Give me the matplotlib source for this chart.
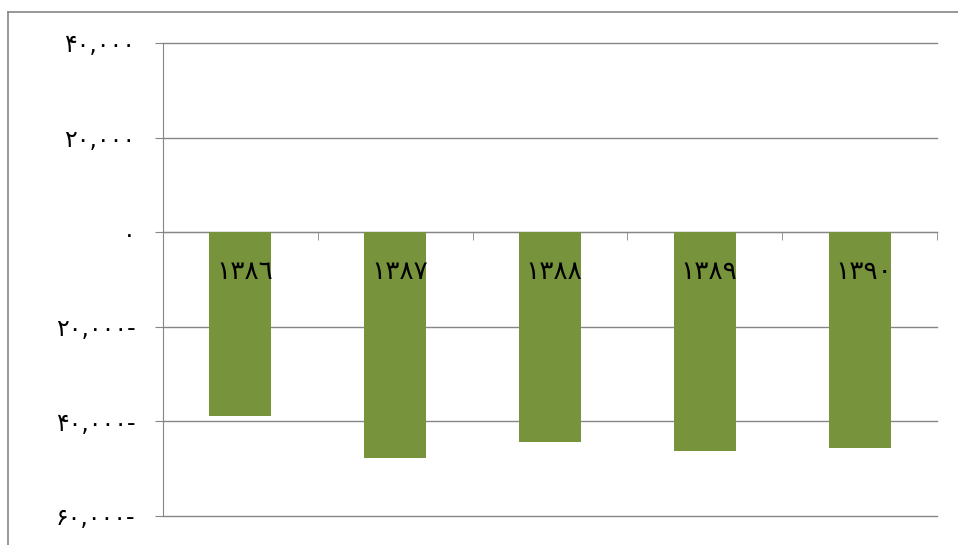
# -*- coding: utf-8 -*-

import matplotlib.pyplot as plt
from matplotlib.lines import Line2D

years = ['۱۳۸٦', '۱۳۸۷', '۱۳۸۸', '۱۳۸۹', '۱۳۹۰']
values = [-38800, -47700, -44400, -46300, -45600]
y_ticks = [-60000, -40000, -20000, 0, 20000, 40000]
y_labels = ['۶۰,۰۰۰-', '۴۰,۰۰۰-', '۲۰,۰۰۰-', '۰', '۲۰,۰۰۰', '۴۰,۰۰۰']

bar_color = '#77933c'
line_color = '#868686'

plt.rcParams['font.family'] = ['DejaVu Sans']

fig = plt.figure(figsize=(9.58, 5.45), dpi=100)
ax = fig.add_axes([163 / 958, 1 - 516 / 545, (937 - 163) / 958, (516 - 43) / 545])

x = list(range(len(years)))
ax.bar(x, values, width=0.4, color=bar_color, zorder=3)

ax.set_xlim(-0.5, len(years) - 0.5)
ax.set_ylim(-60000, 40000)
ax.set_yticks(y_ticks)
ax.set_yticklabels(y_labels, fontsize=17)
ax.grid(axis='y', color=line_color, linewidth=1, zorder=0)
for line in ax.get_ygridlines():
    line.set_clip_on(False)

for side in ['top', 'right']:
    ax.spines[side].set_visible(False)
ax.spines['left'].set_color(line_color)
ax.spines['bottom'].set_position(('data', 0))
ax.spines['bottom'].set_color(line_color)
ax.spines['bottom'].set_zorder(2)

ax.tick_params(axis='y', direction='out', length=6, color=line_color, pad=14)
ax.set_xticks(x)
ax.tick_params(axis='x', which='major', length=0, labelbottom=False)
ax.set_xticks([i + 0.5 for i in x], minor=True)
ax.tick_params(axis='x', which='minor', direction='out', length=6, color=line_color)

for i, label in enumerate(years):
    ax.annotate(label, xy=(i, 0), xytext=(3, -29), textcoords='offset points',
                ha='center', va='center', fontsize=19, zorder=4)

# chart area border (cut off at the right and bottom)
fig.add_artist(Line2D([8 / 958, 8 / 958], [-0.1, 1 - 12 / 545], transform=fig.transFigure,
                      color=line_color, linewidth=1.2))
fig.add_artist(Line2D([8 / 958, 1.1], [1 - 12 / 545, 1 - 12 / 545], transform=fig.transFigure,
                      color=line_color, linewidth=1.2))

plt.savefig('out.png', dpi=100)
